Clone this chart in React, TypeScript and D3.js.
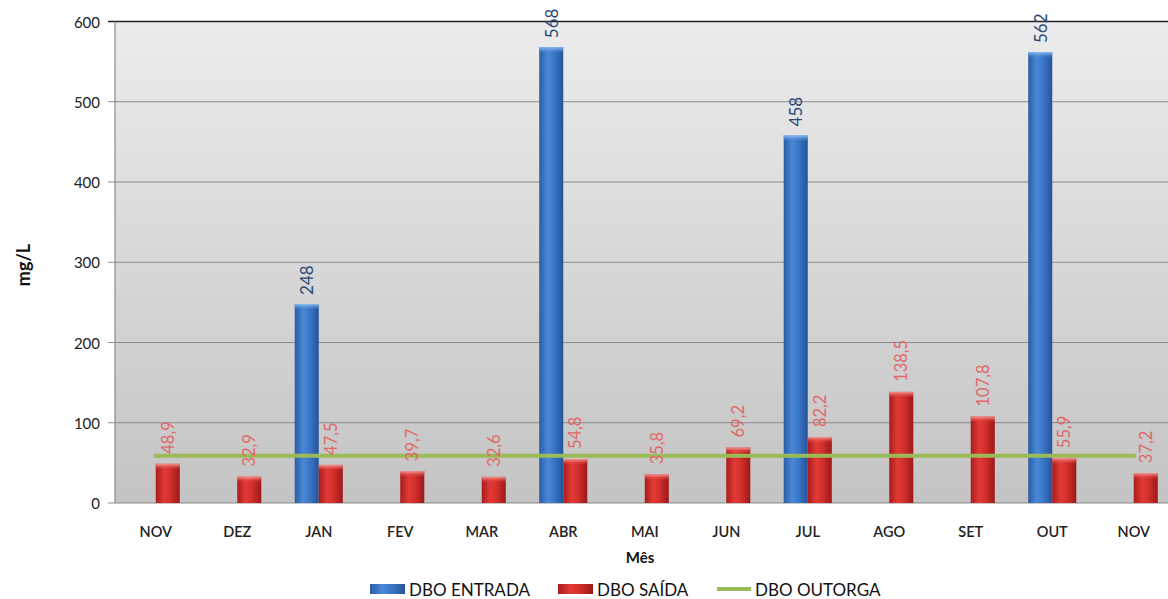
import React from "react";
import * as d3 from "d3";

const categories = ["NOV", "DEZ", "JAN", "FEV", "MAR", "ABR", "MAI", "JUN", "JUL", "AGO", "SET", "OUT", "NOV"];
const entrada: (number | null)[] = [null, null, 248, null, null, 568, null, null, 458, null, null, 562, null];
const saida: number[] = [48.9, 32.9, 47.5, 39.7, 32.6, 54.8, 35.8, 69.2, 82.2, 138.5, 107.8, 55.9, 37.2];
const outorga: number[] = [59, 59, 59, 59, 59, 59, 59, 59, 59, 59, 59, 59, 59];
const yTicks = [0, 100, 200, 300, 400, 500, 600];
const seriesNames = ["DBO ENTRADA", "DBO SAÍDA", "DBO OUTORGA"];

const W = 1168;
const H = 599;
const left = 115;
const top = 21.5;
const bottom = 503;
const right = 1174.5;
const FONT = "Lato, 'Open Sans', sans-serif";

export default function App() {
  const idx = categories.map((_, i) => String(i));
  const x = d3.scaleBand<string>().domain(idx).range([left, right]).paddingInner(0.41).paddingOuter(0.205);
  const sub = d3.scaleBand<string>().domain(["e", "s"]).range([0, x.bandwidth()]);
  const y = d3.scaleLinear().domain([0, 600]).range([bottom, top]);
  const center = (i: number) => (x(String(i)) as number) + x.bandwidth() / 2;
  const line = d3
    .line<number>()
    .x((_, i) => center(i))
    .y((d) => y(d));
  const fmt = (v: number) => (Number.isInteger(v) ? String(v) : String(v).replace(".", ","));

  return (
    <svg width={W} height={H} style={{ position: "absolute", left: 0, top: 0 }} fontFamily={FONT}>
      <defs>
        <linearGradient id="bg" x1="0" y1="0" x2="0" y2="1">
          <stop offset="0" stopColor="#ececec" />
          <stop offset="1" stopColor="#c4c4c4" />
        </linearGradient>
        <linearGradient id="blueG" x1="0" y1="0" x2="1" y2="0">
          <stop offset="0" stopColor="#2a5ca6" />
          <stop offset="0.35" stopColor="#4a88d6" />
          <stop offset="0.6" stopColor="#3c78c8" />
          <stop offset="1" stopColor="#24539a" />
        </linearGradient>
        <linearGradient id="redG" x1="0" y1="0" x2="1" y2="0">
          <stop offset="0" stopColor="#a81c1c" />
          <stop offset="0.35" stopColor="#e23a36" />
          <stop offset="0.6" stopColor="#d3302c" />
          <stop offset="1" stopColor="#9c1818" />
        </linearGradient>
        <linearGradient id="blueCap" x1="0" y1="0" x2="0" y2="1">
          <stop offset="0" stopColor="#8fbff0" />
          <stop offset="1" stopColor="#4a88d6" stopOpacity="0" />
        </linearGradient>
        <linearGradient id="redCap" x1="0" y1="0" x2="0" y2="1">
          <stop offset="0" stopColor="#f49a98" />
          <stop offset="1" stopColor="#e23a36" stopOpacity="0" />
        </linearGradient>
      </defs>

      {/* plot background */}
      <rect x={left} y={top} width={right - left} height={bottom - top} fill="url(#bg)" />

      {/* gridlines */}
      {yTicks.map((t) => (
        <line key={"g" + t} x1={left - 7} x2={right} y1={y(t)} y2={y(t)} stroke={t === 600 ? "#222" : "#8a8a8a"} strokeWidth={t === 600 ? 1.5 : 1.2} />
      ))}
      <line x1={left} x2={left} y1={top} y2={bottom} stroke="#8a8a8a" strokeWidth={1.2} />

      {/* y tick labels */}
      {yTicks.map((t) => (
        <text key={"t" + t} x={left - 15} y={y(t)} textAnchor="end" dominantBaseline="central" fontSize={15} fill="#222">
          {t}
        </text>
      ))}

      {/* bars */}
      {entrada.map((v, i) =>
        v == null ? null : (
          <g key={"e" + i}>
            <rect x={(x(String(i)) as number) + (sub("e") as number)} y={y(v)} width={sub.bandwidth()} height={bottom - y(v)} fill="url(#blueG)" />
            <rect x={(x(String(i)) as number) + (sub("e") as number)} y={y(v)} width={sub.bandwidth()} height={6} fill="url(#blueCap)" />
          </g>
        )
      )}
      {saida.map((v, i) => (
        <g key={"s" + i}>
          <rect x={(x(String(i)) as number) + (sub("s") as number)} y={y(v)} width={sub.bandwidth()} height={bottom - y(v)} fill="url(#redG)" />
          <rect x={(x(String(i)) as number) + (sub("s") as number)} y={y(v)} width={sub.bandwidth()} height={6} fill="url(#redCap)" />
        </g>
      ))}

      {/* outorga line */}
      <path d={line(outorga) || ""} fill="none" stroke="#9bbb59" strokeWidth={4} strokeLinecap="square" />

      {/* data labels */}
      {entrada.map((v, i) => {
        if (v == null) return null;
        const cx = (x(String(i)) as number) + (sub("e") as number) + sub.bandwidth() / 2;
        const cy = y(v) - 9;
        return (
          <text key={"le" + i} transform={`translate(${cx},${cy}) rotate(-90)`} dominantBaseline="central" fontSize={17} fill="#2c4a78">
            {fmt(v)}
          </text>
        );
      })}
      {saida.map((v, i) => {
        const cx = (x(String(i)) as number) + (sub("s") as number) + sub.bandwidth() / 2;
        const cy = y(v) - 10;
        return (
          <text key={"ls" + i} transform={`translate(${cx},${cy}) rotate(-90)`} dominantBaseline="central" fontSize={16.5} fill="#e06868">
            {fmt(v)}
          </text>
        );
      })}

      {/* x labels */}
      {categories.map((c, i) => (
        <text key={"c" + i} x={center(i)} y={531} textAnchor="middle" dominantBaseline="central" fontSize={14.5} fontWeight={600} fill="#222">
          {c}
        </text>
      ))}

      {/* axis titles */}
      <text x={640} y={557} textAnchor="middle" dominantBaseline="central" fontSize={15} fontWeight={700} fill="#111">
        Mês
      </text>
      <text transform={`translate(23,265) rotate(-90)`} textAnchor="middle" dominantBaseline="central" fontSize={18} fontWeight={700} fill="#111">
        mg/L
      </text>

      {/* legend */}
      <rect x={370} y={584} width={35} height={10} fill="url(#blueG)" />
      <text x={409} y={589} dominantBaseline="central" fontSize={17} fill="#111">{seriesNames[0]}</text>
      <rect x={558} y={584} width={35} height={10} fill="url(#redG)" />
      <text x={597} y={589} dominantBaseline="central" fontSize={17} fill="#111">{seriesNames[1]}</text>
      <line x1={717} x2={751} y1={589} y2={589} stroke="#9bbb59" strokeWidth={4} />
      <text x={755} y={589} dominantBaseline="central" fontSize={17} fill="#111">{seriesNames[2]}</text>
    </svg>
  );
}
